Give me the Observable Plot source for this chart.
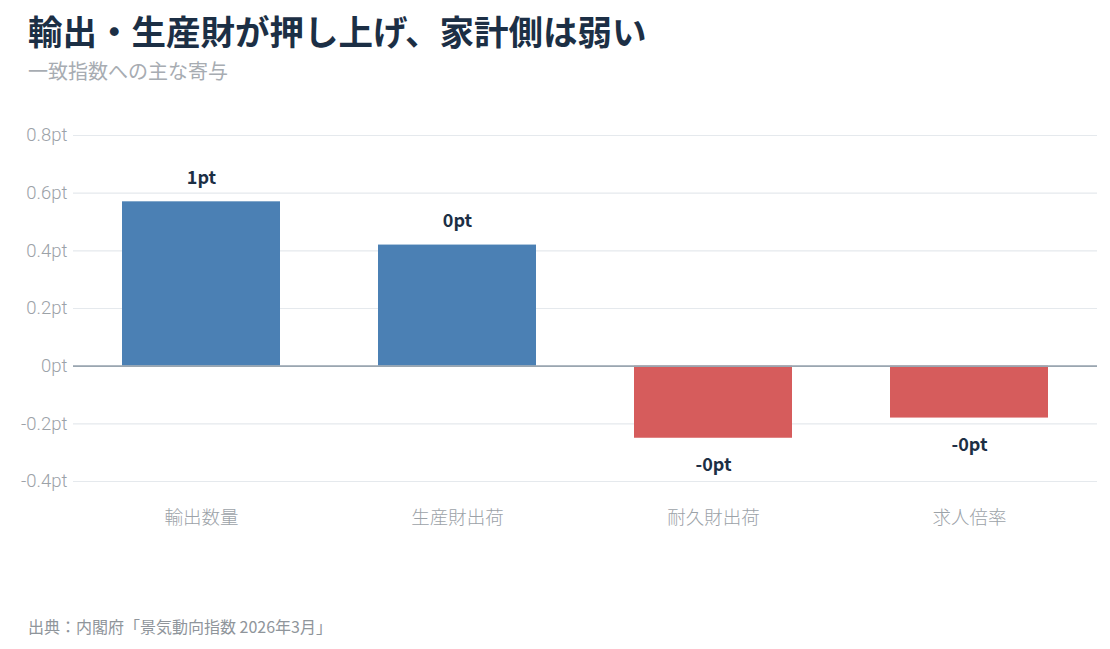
<!DOCTYPE html>
<html>
<head>
<meta charset="utf-8">
<script src="https://cdn.jsdelivr.net/npm/d3@7"></script>
<script src="https://cdn.jsdelivr.net/npm/@observablehq/plot@0.6"></script>
<style>
  html, body { margin: 0; padding: 0; background: #fff; }
  body { width: 1110px; height: 649px; position: relative; font-family: "Noto Sans CJK JP", "Noto Sans", sans-serif; }
  #title { position: absolute; left: 28px; top: 13px; line-height: 1; font-size: 34.5px; font-weight: 700; color: #1c2f45; }
  #subtitle { position: absolute; left: 28px; top: 61px; line-height: 1; font-size: 20px; font-weight: 400; color: #a7acb2; }
  #chart { position: absolute; left: 0; top: 90px; }
  #caption { position: absolute; left: 28px; top: 618px; line-height: 1; font-size: 16px; color: #8f959b; }
</style>
</head>
<body>
<div id="title">輸出・生産財が押し上げ、家計側は弱い</div>
<div id="subtitle">一致指数への主な寄与</div>
<div id="chart"></div>
<div id="caption">出典：内閣府「景気動向指数 2026年3月」</div>
<script>
const categories = ["輸出数量", "生産財出荷", "耐久財出荷", "求人倍率"];
const values = [0.57, 0.42, -0.25, -0.18];
const yTicks = [-0.4, -0.2, 0, 0.2, 0.4, 0.6, 0.8];

const posColor = "#4b80b4";
const negColor = "#d65c5c";

const data = categories.map((c, i) => ({category: c, value: values[i]}));
const pos = data.filter(d => d.value >= 0);
const neg = data.filter(d => d.value < 0);
const fmt = d => `${d.toFixed(0)}pt`;

const font = "'Noto Sans CJK JP', 'Noto Sans', sans-serif";
const lightFont = "Roboto, 'Noto Sans CJK JP', sans-serif";

const chart = Plot.plot({
  width: 1110,
  height: 500,
  marginTop: 45,
  marginLeft: 73,
  marginRight: 13,
  marginBottom: 109,
  style: {fontFamily: font, background: "transparent"},
  x: {domain: categories, paddingInner: 0.383, paddingOuter: 0.19, label: null},
  y: {domain: [-0.4, 0.8], label: null},
  marks: [
    Plot.gridY(yTicks, {stroke: "#e5e9ed", strokeOpacity: 1, strokeWidth: 1.2}),
    Plot.axisY(yTicks, {tickSize: 0, tickPadding: 6, fontSize: 18.5, fill: "#9ca2a8", fontWeight: 300, fontFamily: lightFont, tickFormat: d => `${d}pt`, label: null}),
    Plot.axisX({tickSize: 0, tickPadding: 29, fontSize: 18.5, fill: "#9ca2a8", fontWeight: 300, label: null}),
    Plot.barY(pos, {x: "category", y: "value", fill: posColor}),
    Plot.barY(neg, {x: "category", y: "value", fill: negColor}),
    Plot.ruleY([0], {stroke: "#9aa6b0", strokeWidth: 1.6}),
    Plot.text(pos, {x: "category", y: "value", text: d => fmt(d.value), dy: -24, fontSize: 18, fontWeight: 700, fill: "#1c2f45"}),
    Plot.text(neg, {x: "category", y: "value", text: d => fmt(d.value), dy: 27, fontSize: 18, fontWeight: 700, fill: "#1c2f45"})
  ]
});
document.getElementById("chart").appendChild(chart);
</script>
</body>
</html>
